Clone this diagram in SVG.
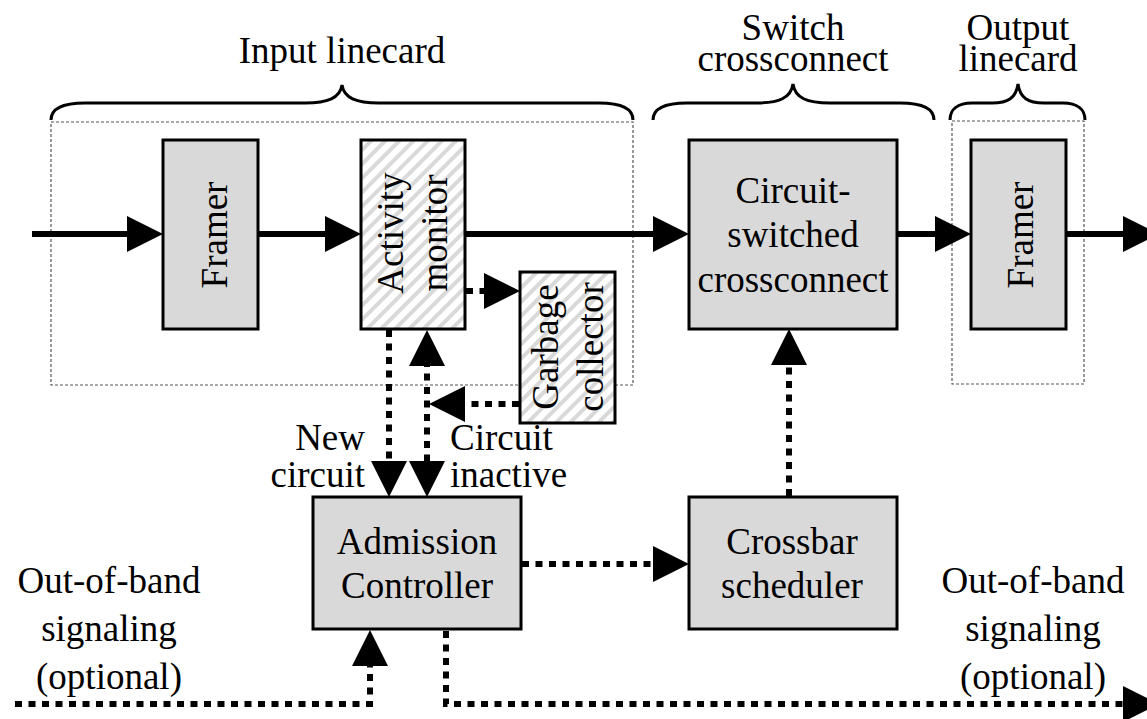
<svg xmlns="http://www.w3.org/2000/svg" width="1147" height="719" viewBox="0 0 1147 719">
  <style>
    text { font-family: "Liberation Serif", "Times New Roman", serif; font-size: 37px; fill: #000; }
    .mid { text-anchor: middle; }
    .box { fill: #d9d9d9; stroke: #000; stroke-width: 3; }
    .hatch { fill: url(#stripes); stroke: #000; stroke-width: 3; }
    .card { fill: none; stroke: #555; stroke-width: 1.2; stroke-dasharray: 3 2; }
    .brace { fill: none; stroke: #000; stroke-width: 3; }
    .solid { fill: none; stroke: #000; stroke-width: 6; }
    .dot { fill: none; stroke: #000; stroke-width: 6; stroke-dasharray: 7 6.5; }
  </style>
  <defs>
    <pattern id="stripes" patternUnits="userSpaceOnUse" width="10" height="10" patternTransform="rotate(45)">
      <rect width="10" height="10" fill="#fff"/>
      <rect width="4" height="10" fill="#d9d9d9"/>
    </pattern>
    <marker id="head" viewBox="0 0 36 36" markerWidth="36" markerHeight="36" markerUnits="userSpaceOnUse" refX="6" refY="18" orient="auto">
      <path d="M0,0 L36,18 L0,36 Z" fill="#000"/>
    </marker>
    <marker id="tail" viewBox="0 0 36 36" markerWidth="36" markerHeight="36" markerUnits="userSpaceOnUse" refX="30" refY="18" orient="auto">
      <path d="M36,0 L0,18 L36,36 Z" fill="#000"/>
    </marker>
  </defs>

  <!-- group labels and braces -->
  <g id="input-linecard">
    <rect class="card" x="51" y="122" width="582" height="263"/>
    <path class="brace" d="M51,120 C51,108 63,103 85,103 L305,103 C328,103 340,98 342,85 C344,98 356,103 379,103 L599,103 C621,103 633,108 633,120"/>
    <text class="mid" x="342" y="63">Input linecard</text>
  </g>
  <g id="switch-crossconnect">
    <path class="brace" d="M653,120 C653,108 665,103 687,103 L756,103 C779,103 791,98 793,84 C795,98 807,103 830,103 L900,103 C922,103 934,108 934,120"/>
    <text class="mid" x="793" y="40">Switch</text>
    <text class="mid" x="793" y="71">crossconnect</text>
  </g>
  <g id="output-linecard">
    <rect class="card" x="952" y="121" width="132" height="263"/>
    <path class="brace" d="M950,120 C950,109 958,103 972,103 L992,103 C1008,103 1016,98 1018,84 C1020,98 1028,103 1044,103 L1063,103 C1077,103 1085,109 1085,120"/>
    <text class="mid" x="1018" y="40">Output</text>
    <text class="mid" x="1018" y="71">linecard</text>
  </g>

  <!-- connectors -->
  <g id="connectors">
    <line class="solid" x1="32" y1="234" x2="133" y2="234" marker-end="url(#head)"/>
    <line class="solid" x1="258" y1="234" x2="331" y2="234" marker-end="url(#head)"/>
    <line class="solid" x1="465" y1="234" x2="659" y2="234" marker-end="url(#head)"/>
    <line class="solid" x1="897" y1="234" x2="941" y2="234" marker-end="url(#head)"/>
    <line class="solid" x1="1066" y1="234" x2="1129" y2="234" marker-end="url(#head)"/>

    <line class="dot" x1="466" y1="291" x2="490" y2="291" marker-end="url(#head)"/>
    <line class="dot" x1="389" y1="330" x2="389" y2="467" marker-end="url(#head)"/>
    <line class="dot" x1="427" y1="360" x2="427" y2="467" marker-start="url(#tail)" marker-end="url(#head)"/>
    <line class="dot" x1="519" y1="404" x2="459" y2="404" marker-end="url(#head)"/>
    <line class="dot" x1="522" y1="564" x2="659" y2="564" marker-end="url(#head)"/>
    <line class="dot" x1="789" y1="496" x2="789" y2="359" marker-end="url(#head)"/>
    <polyline class="dot" points="15,704 370,704 370,660" marker-end="url(#head)"/>
    <polyline class="dot" points="446,631 446,704 1129,704" marker-end="url(#head)"/>
  </g>

  <!-- nodes -->
  <g id="framer-in">
    <rect class="box" x="163" y="140" width="95" height="189"/>
    <text class="mid" transform="translate(227,235) rotate(-90)">Framer</text>
  </g>
  <g id="activity-monitor">
    <rect class="hatch" x="361" y="140" width="104" height="189"/>
    <text class="mid" transform="translate(403,233) rotate(-90)">Activity</text>
    <text class="mid" transform="translate(447,233) rotate(-90)">monitor</text>
  </g>
  <g id="garbage-collector">
    <rect class="hatch" x="520" y="272" width="95" height="151"/>
    <text class="mid" transform="translate(558,347) rotate(-90)">Garbage</text>
    <text class="mid" transform="translate(603,347) rotate(-90)">collector</text>
  </g>
  <g id="crossconnect">
    <rect class="box" x="689" y="140" width="208" height="189"/>
    <text class="mid" x="793" y="203">Circuit-</text>
    <text class="mid" x="793" y="247">switched</text>
    <text class="mid" x="793" y="292">crossconnect</text>
  </g>
  <g id="framer-out">
    <rect class="box" x="971" y="140" width="95" height="189"/>
    <text class="mid" transform="translate(1033,235) rotate(-90)">Framer</text>
  </g>
  <g id="admission-controller">
    <rect class="box" x="313" y="497" width="208" height="132"/>
    <text class="mid" x="417" y="554">Admission</text>
    <text class="mid" x="417" y="598">Controller</text>
  </g>
  <g id="crossbar-scheduler">
    <rect class="box" x="689" y="497" width="208" height="132"/>
    <text class="mid" x="792" y="554">Crossbar</text>
    <text class="mid" x="792" y="598">scheduler</text>
  </g>

  <!-- connector labels -->
  <g id="labels">
    <text x="365" y="450" text-anchor="end">New</text>
    <text x="365" y="487" text-anchor="end">circuit</text>
    <text x="450" y="450">Circuit</text>
    <text x="450" y="487">inactive</text>
    <text class="mid" x="109" y="593">Out-of-band</text>
    <text class="mid" x="109" y="641">signaling</text>
    <text class="mid" x="109" y="689">(optional)</text>
    <text class="mid" x="1033" y="593">Out-of-band</text>
    <text class="mid" x="1033" y="641">signaling</text>
    <text class="mid" x="1033" y="689">(optional)</text>
  </g>
</svg>
